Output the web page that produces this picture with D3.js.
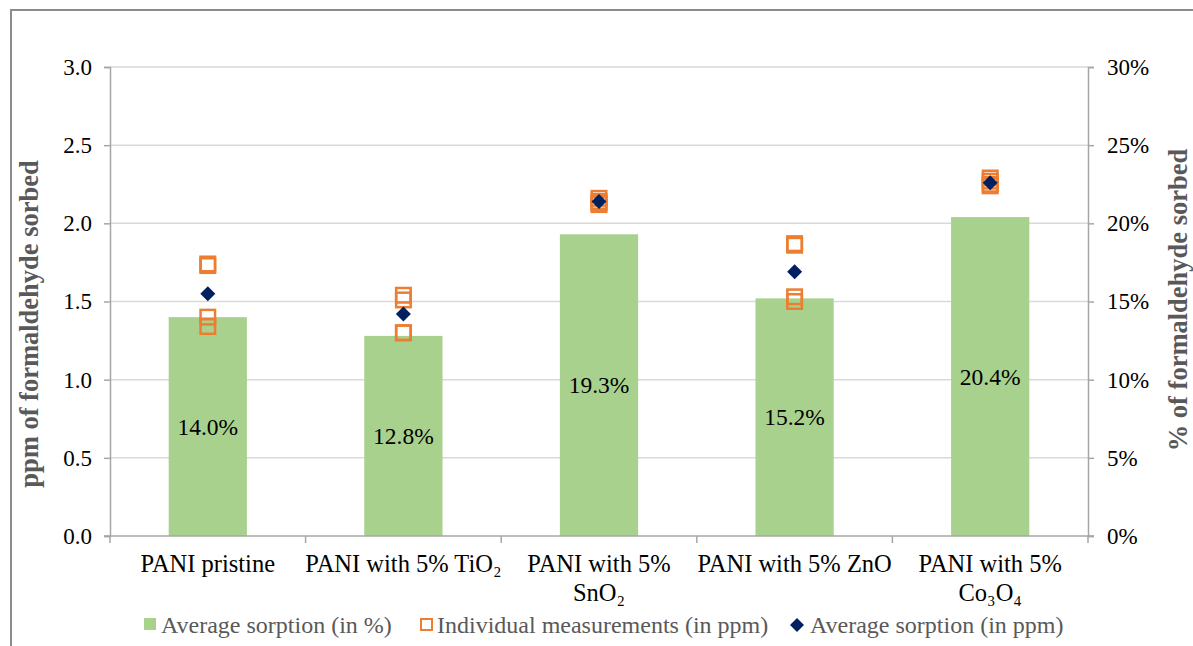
<!DOCTYPE html>
<html>
<head>
<meta charset="utf-8">
<script src="https://cdn.jsdelivr.net/npm/d3@7"></script>
<style>
  html, body { margin: 0; padding: 0; background: #fff; }
  svg { display: block; }
</style>
</head>
<body>
<svg id="chart" width="1193" height="646"></svg>
<script>
// Sample names (each entry is a list of label lines)
const categories = [
  ["PANI pristine"],
  ["PANI with 5% TiO\u2082"],
  ["PANI with 5%", "SnO\u2082"],
  ["PANI with 5% ZnO"],
  ["PANI with 5%", "Co\u2083O\u2084"]
];
// Average sorption as a percentage (bars, right axis)
const avgPercent = [14.0, 12.8, 19.3, 15.2, 20.4];
// Individual measurements in ppm (open squares, left axis)
const individualPpm = [
  [1.74, 1.73, 1.40, 1.34],
  [1.54, 1.51, 1.30, 1.30],
  [2.16, 2.14, 2.12, 2.13],
  [1.87, 1.86, 1.53, 1.50],
  [2.29, 2.27, 2.24, 2.25]
];
// Average sorption in ppm (diamonds, left axis)
const avgPpm = [1.55, 1.42, 2.14, 1.69, 2.26];
const leftTicks = [0, 0.5, 1.0, 1.5, 2.0, 2.5, 3.0];
const rightTicks = [0, 5, 10, 15, 20, 25, 30];

const FONT = "Liberation Serif";
const svg = d3.select("#chart");
const W = 1193, H = 646;
const m = { left: 110, right: 1088, top: 67, bottom: 536 };

// outer chart frame
svg.append("rect")
  .attr("x", 11).attr("y", 10)
  .attr("width", W + 20).attr("height", H + 20)
  .attr("fill", "none").attr("stroke", "#8c8c8c").attr("stroke-width", 2);

const x = d3.scaleBand().domain(d3.range(categories.length)).range([m.left, m.right]);
const yL = d3.scaleLinear().domain([0, 3]).range([m.bottom, m.top]);
const yR = d3.scaleLinear().domain([0, 30]).range([m.bottom, m.top]);
const cx = i => x(i) + x.bandwidth() / 2;

// horizontal gridlines
svg.append("g").selectAll("line").data(leftTicks.filter(d => d > 0)).join("line")
  .attr("x1", m.left).attr("x2", m.right)
  .attr("y1", d => yL(d)).attr("y2", d => yL(d))
  .attr("stroke", "#d9d9d9").attr("stroke-width", 1.5);

// bars
const barW = x.bandwidth() * 0.4;
svg.append("g").selectAll("rect").data(avgPercent).join("rect")
  .attr("x", (d, i) => cx(i) - barW / 2)
  .attr("y", d => yR(d))
  .attr("width", barW)
  .attr("height", d => yR(0) - yR(d))
  .attr("fill", "#a9d18e");

// bar value labels
svg.append("g").selectAll("text").data(avgPercent).join("text")
  .attr("x", (d, i) => cx(i))
  .attr("y", d => (yR(d) + yR(0)) / 2 + 8)
  .attr("text-anchor", "middle")
  .attr("font-family", FONT)
  .attr("font-size", 23.5).attr("fill", "#000")
  .text(d => d.toFixed(1) + "%");

// value axes
const axisColor = "#a6a6a6";
const gL = svg.append("g").attr("transform", `translate(${m.left},0)`)
  .call(d3.axisLeft(yL).tickValues(leftTicks).tickFormat(d3.format(".1f")).tickSize(6).tickPadding(12));
const gR = svg.append("g").attr("transform", `translate(${m.right},0)`)
  .call(d3.axisRight(yR).tickValues(rightTicks).tickFormat(d => d + "%").tickSize(6).tickPadding(13));
[gL, gR].forEach(g => {
  g.attr("font-family", FONT);
  g.select(".domain").attr("stroke", axisColor).attr("stroke-width", 1.5);
  g.selectAll(".tick line").attr("stroke", axisColor).attr("stroke-width", 1.5);
  g.selectAll(".tick text").attr("font-family", FONT).attr("font-size", 23).attr("fill", "#000");
});

// category axis with separator ticks
const bottom = svg.append("g");
bottom.append("line")
  .attr("x1", m.left - 6).attr("x2", m.right + 6)
  .attr("y1", m.bottom).attr("y2", m.bottom)
  .attr("stroke", axisColor).attr("stroke-width", 1.5);
const seps = d3.range(categories.length + 1).map(i => i < categories.length ? x(i) : m.right);
bottom.selectAll("line.sep").data(seps).join("line").attr("class", "sep")
  .attr("x1", d => d).attr("x2", d => d)
  .attr("y1", m.bottom).attr("y2", m.bottom + 7)
  .attr("stroke", axisColor).attr("stroke-width", 1.5);
const catLabels = bottom.selectAll("text.cat").data(categories).join("text").attr("class", "cat")
  .attr("text-anchor", "middle").attr("font-family", FONT).attr("font-size", 24.5).attr("fill", "#000");
catLabels.each(function (lines, i) {
  const t = d3.select(this);
  lines.forEach((ln, k) => {
    t.append("tspan")
      .attr("x", cx(i))
      .attr("y", 572 + k * 29)
      .text(ln);
  });
});

// individual measurements
const sq = 14.5;
const pts = [];
individualPpm.forEach((arr, i) => arr.forEach(v => pts.push({ i, v })));
svg.append("g").selectAll("rect").data(pts).join("rect")
  .attr("x", d => cx(d.i) - sq / 2)
  .attr("y", d => yL(d.v) - sq / 2)
  .attr("width", sq).attr("height", sq)
  .attr("fill", "none").attr("stroke", "#ed7d31").attr("stroke-width", 2.5);

// averages in ppm
const diamond = (px, py, r) => `M${px},${py - r}L${px + r},${py}L${px},${py + r}L${px - r},${py}Z`;
svg.append("g").selectAll("path").data(avgPpm).join("path")
  .attr("d", (d, i) => diamond(cx(i), yL(d), 7.5))
  .attr("fill", "#002060");

// axis titles
svg.append("text")
  .attr("transform", "translate(38,324) rotate(-90)")
  .attr("text-anchor", "middle").attr("font-family", FONT).attr("font-size", 26.5).attr("font-weight", "bold").attr("fill", "#595959")
  .text("ppm of formaldehyde sorbed");
svg.append("text")
  .attr("transform", "translate(1187,300) rotate(-90)")
  .attr("text-anchor", "middle").attr("font-family", FONT).attr("font-size", 26.5).attr("font-weight", "bold").attr("fill", "#595959")
  .text("% of formaldehyde sorbed");

// legend
const lg = svg.append("g").attr("font-family", FONT).attr("font-size", 24).attr("fill", "#595959");
lg.append("rect").attr("x", 144).attr("y", 618).attr("width", 12).attr("height", 12).attr("fill", "#a9d18e");
lg.append("text").attr("x", 161).attr("y", 633).text("Average sorption (in %)");
lg.append("rect").attr("x", 421).attr("y", 619).attr("width", 11).attr("height", 11)
  .attr("fill", "none").attr("stroke", "#ed7d31").attr("stroke-width", 2);
lg.append("text").attr("x", 437).attr("y", 633).text("Individual measurements (in ppm)");
lg.append("path").attr("d", diamond(797, 625, 7)).attr("fill", "#002060");
lg.append("text").attr("x", 810).attr("y", 633).text("Average sorption (in ppm)");
</script>
</body>
</html>
